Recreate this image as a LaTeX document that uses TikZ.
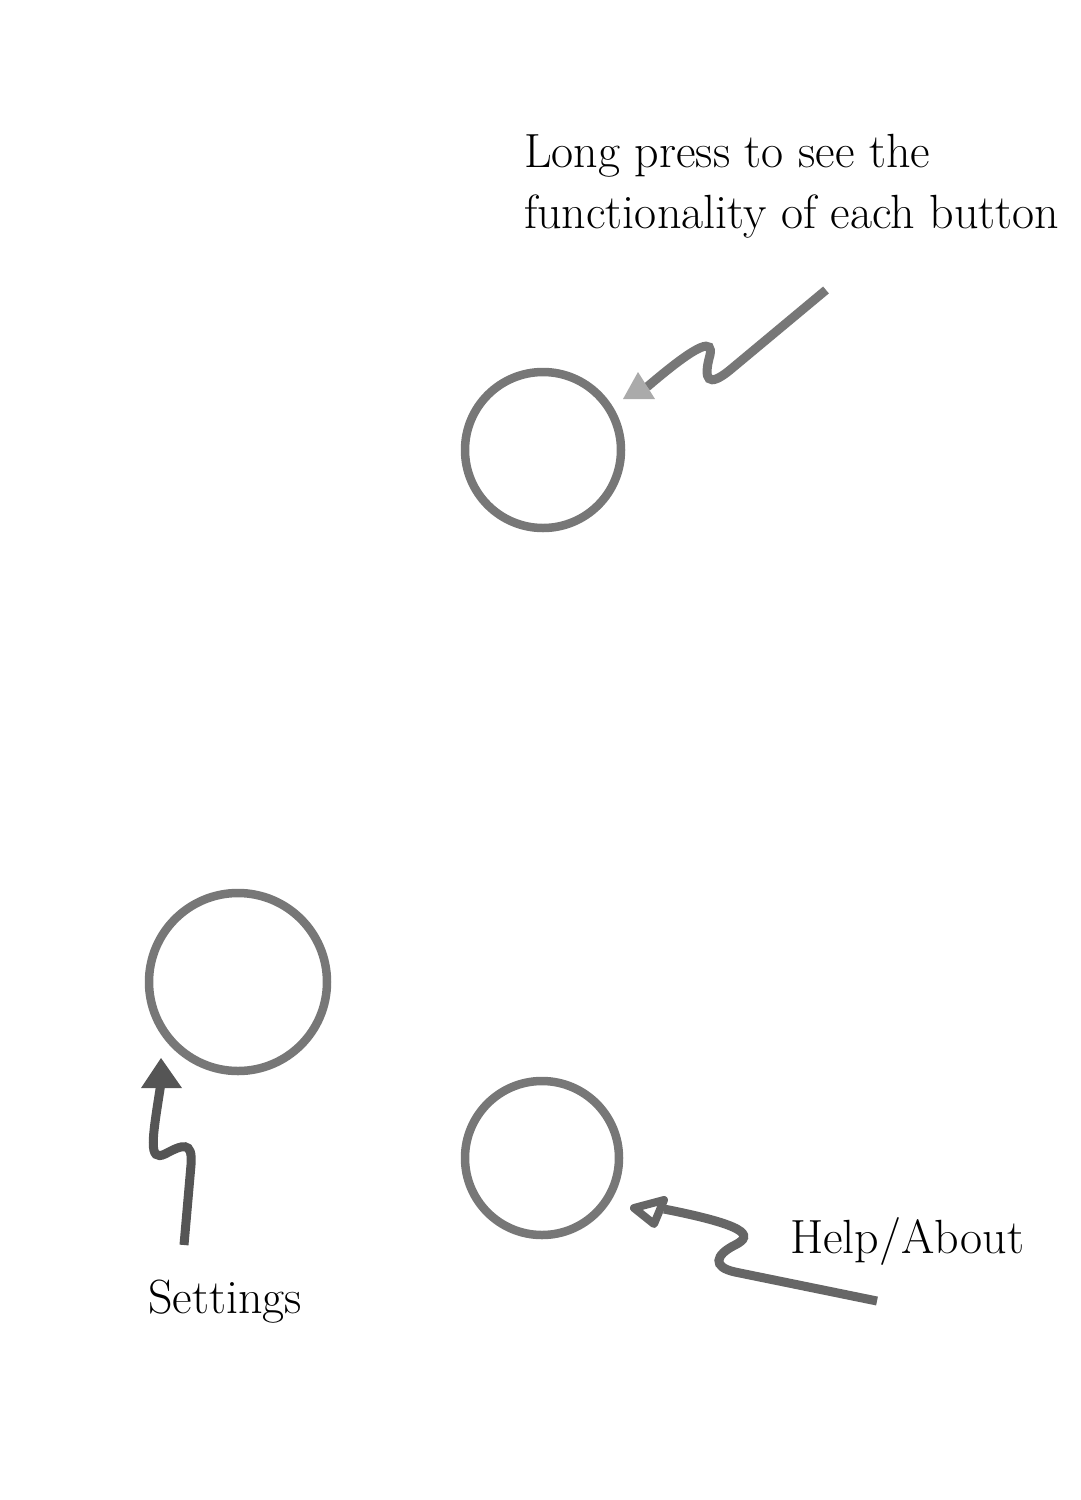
\documentclass[tikz,border=0pt]{standalone}
\usepackage{fontspec}
\begin{document}
\begin{tikzpicture}[x=1pt,y=-1pt,
  btn/.style={circle,draw=gray77,line width=8.5pt,inner sep=0pt},
  lbl/.style={anchor=base west,inner sep=0pt,font=\fontsize{48}{61}\selectfont},
  wig/.style={line width=9pt,line cap=butt}]
\definecolor{gray77}{HTML}{777777}
\definecolor{gray55}{HTML}{555555}
\definecolor{gray66}{HTML}{666666}
\definecolor{grayaa}{HTML}{AAAAAA}
\useasboundingbox (0,0) rectangle (1080,1500);
% buttons
\node[btn,minimum size=156pt] (top) at (543,450) {};
\node[btn,minimum size=178pt] (set) at (238,982) {};
\node[btn,minimum size=154pt] (help) at (542,1158) {};
% labels
\node[lbl,align=left] (ltop) at (524,228) {Long press to see the\\functionality of each button};
\node[lbl] (lset) at (148,1313) {Settings};
\node[lbl] (lhelp) at (790,1253) {Help/About};
% top arrow
\coordinate (t0) at (826,290);
\coordinate (t1) at (647,387);
\draw[wig,draw=gray77] (t0) -- (730,370) .. controls (708,388) and (703,380) .. (710,355)
  .. controls (713,340) and (702,340) .. (t1);
\fill[grayaa] (638,372) -- (623,399) -- (655,399) -- cycle;
% settings arrow
\coordinate (s0) at (184,1245);
\draw[wig,draw=gray55] (s0) -- (191,1165) .. controls (193,1140) and (182,1145) .. (165,1154)
  .. controls (148,1162) and (152,1140) .. (161,1083);
\fill[gray55] (161,1058) -- (141,1088) -- (182,1088) -- cycle;
% help arrow
\coordinate (h0) at (877,1301);
\draw[wig,draw=gray66] (h0) -- (735,1272) .. controls (712,1267) and (715,1255) .. (735,1245)
  .. controls (755,1235) and (745,1225) .. (664,1209);
\draw[draw=gray66,line width=8pt,line join=round] (634,1208) -- (664,1200) -- (654,1224) -- cycle;
\end{tikzpicture}
\end{document}
